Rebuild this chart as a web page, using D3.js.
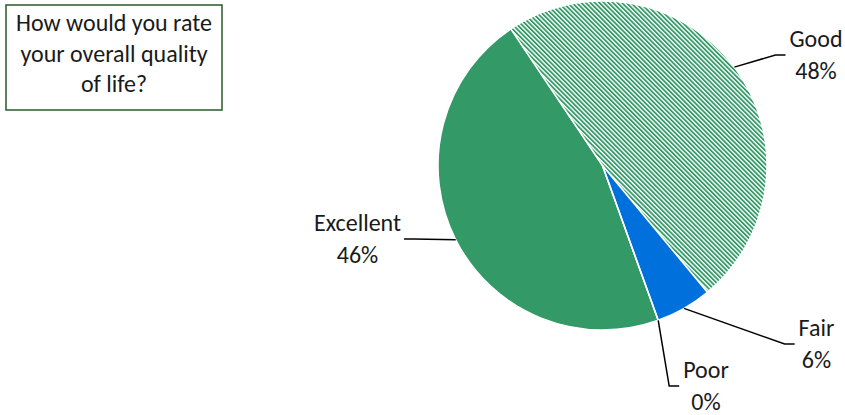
<!DOCTYPE html>
<html>
<head>
<meta charset="utf-8">
<script src="https://cdn.jsdelivr.net/npm/d3@7"></script>
<style>
  html, body { margin: 0; padding: 0; background: #ffffff; }
  svg { display: block; }
  text { font-family: Carlito, Calibri, "Open Sans", sans-serif; fill: #1a1a1a; }
</style>
</head>
<body>
<svg id="chart" width="845" height="415"></svg>
<script>
// ---- data ----
const titleLines = ["How would you rate", "your overall quality", "of life?"];
const categories = ["Excellent", "Good", "Fair", "Poor"];
const values = [46.1, 48.4, 5.5, 0];
const percentLabels = values.map(v => Math.round(v) + "%");

// ---- layout / style ----
const cx = 602.5, cy = 165.5, R = 164.5;
const startDeg = 160.2;
const green = "#339966", blue = "#0070dd";
const fills = { Excellent: green, Good: "url(#hatch)", Fair: blue, Poor: "#99ccff" };
// label block centre (x, middle y) and which side the leader enters from
const labelLayout = {
  Excellent: { x: 357.5, y: 239, side: "left" },
  Good:      { x: 816,   y: 55,  side: "right" },
  Fair:      { x: 816.5, y: 344, side: "right" },
  Poor:      { x: 706,   y: 386, side: "right" }
};
const fontSize = 24;

const svg = d3.select("#chart");
const defs = svg.append("defs");
const pat = defs.append("pattern")
  .attr("id", "hatch").attr("patternUnits", "userSpaceOnUse")
  .attr("width", 3.2).attr("height", 10)
  .attr("patternTransform", "rotate(-45)");
pat.append("rect").attr("width", 3.2).attr("height", 10).attr("fill", "#ffffff");
pat.append("rect").attr("width", 1.8).attr("height", 10).attr("fill", green);

// ---- title box ----
const tb = svg.append("g");
tb.append("rect").attr("x", 6).attr("y", 5).attr("width", 216).attr("height", 105)
  .attr("fill", "#ffffff").attr("stroke", "#285a28").attr("stroke-width", 1.5);
tb.selectAll("text").data(titleLines).join("text")
  .attr("x", 114).attr("y", (d, i) => 31 + i * 30.5)
  .attr("text-anchor", "middle").attr("font-size", fontSize)
  .text(d => d);

// ---- pie ----
const data = categories.map((c, i) => ({ cat: c, value: values[i], label: percentLabels[i] }));
const pie = d3.pie().sort(null).value(d => d.value)
  .startAngle(startDeg * Math.PI / 180)
  .endAngle(startDeg * Math.PI / 180 + 2 * Math.PI);
const arcs = pie(data);
const arc = d3.arc().innerRadius(0).outerRadius(R);

const g = svg.append("g").attr("transform", `translate(${cx},${cy})`);
g.selectAll("path.slice").data(arcs).join("path")
  .attr("class", "slice")
  .attr("d", arc)
  .attr("fill", d => fills[d.data.cat])
  .attr("stroke", "#ffffff").attr("stroke-width", 1.5).attr("stroke-linejoin", "round");

// ---- labels + leaders ----
const lg = svg.append("g");
arcs.forEach(a => {
  const L = labelLayout[a.data.cat];
  const mid = (a.startAngle + a.endAngle) / 2;
  const sx = cx + R * Math.sin(mid), sy = cy - R * Math.cos(mid);
  const t = lg.append("text").attr("text-anchor", "middle").attr("font-size", fontSize);
  t.append("tspan").attr("x", L.x).attr("y", L.y - 8).text(a.data.cat);
  t.append("tspan").attr("x", L.x).attr("y", L.y + 24).text(a.data.label);
  const bw = t.node().getBBox().width;
  let ex, elx;
  if (L.side === "right") { ex = L.x - bw / 2 - 4; elx = ex - 10; }
  else { ex = L.x + bw / 2 + 3; elx = ex + 10; }
  lg.append("path")
    .attr("d", d3.line()([[sx, sy], [elx, L.y], [ex, L.y]]))
    .attr("fill", "none").attr("stroke", "#000000").attr("stroke-width", 1.5);
});
</script>
</body>
</html>
